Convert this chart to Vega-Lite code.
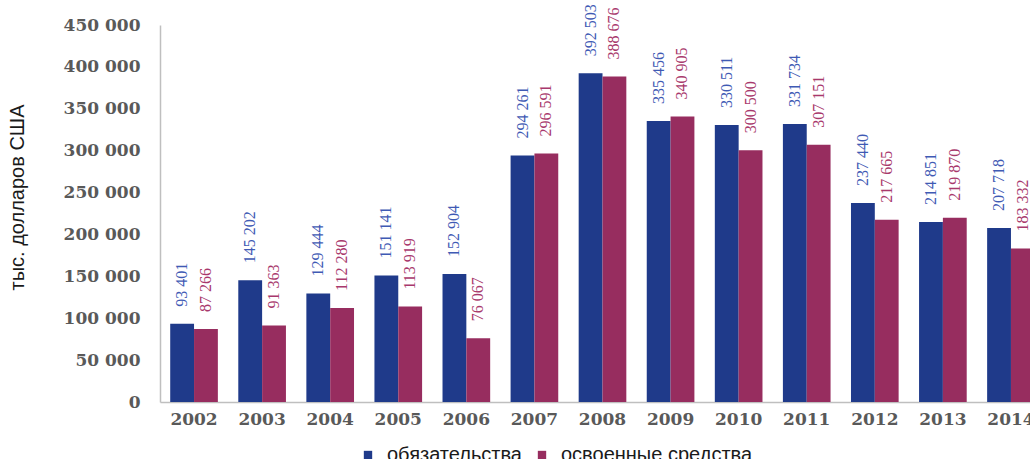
{
  "$schema": "https://vega.github.io/schema/vega-lite/v6.json",
  "autosize": {"type": "none"},
  "padding": {"left": 160, "top": 25, "right": 0, "bottom": 57},
  "width": 885,
  "height": 377,
  "background": "white",
  "config": {
    "view": {"stroke": null},
    "locale": {"number": {"decimal": ",", "thousands": " ", "grouping": [3], "currency": ["", ""]}}
  },
  "data": {
    "values": [
      {"year": "2002", "series": "обязательства", "value": 93401},
      {"year": "2002", "series": "освоенные средства", "value": 87266},
      {"year": "2003", "series": "обязательства", "value": 145202},
      {"year": "2003", "series": "освоенные средства", "value": 91363},
      {"year": "2004", "series": "обязательства", "value": 129444},
      {"year": "2004", "series": "освоенные средства", "value": 112280},
      {"year": "2005", "series": "обязательства", "value": 151141},
      {"year": "2005", "series": "освоенные средства", "value": 113919},
      {"year": "2006", "series": "обязательства", "value": 152904},
      {"year": "2006", "series": "освоенные средства", "value": 76067},
      {"year": "2007", "series": "обязательства", "value": 294261},
      {"year": "2007", "series": "освоенные средства", "value": 296591},
      {"year": "2008", "series": "обязательства", "value": 392503},
      {"year": "2008", "series": "освоенные средства", "value": 388676},
      {"year": "2009", "series": "обязательства", "value": 335456},
      {"year": "2009", "series": "освоенные средства", "value": 340905},
      {"year": "2010", "series": "обязательства", "value": 330511},
      {"year": "2010", "series": "освоенные средства", "value": 300500},
      {"year": "2011", "series": "обязательства", "value": 331734},
      {"year": "2011", "series": "освоенные средства", "value": 307151},
      {"year": "2012", "series": "обязательства", "value": 237440},
      {"year": "2012", "series": "освоенные средства", "value": 217665},
      {"year": "2013", "series": "обязательства", "value": 214851},
      {"year": "2013", "series": "освоенные средства", "value": 219870},
      {"year": "2014", "series": "обязательства", "value": 207718},
      {"year": "2014", "series": "освоенные средства", "value": 183332}
    ]
  },
  "encoding": {
    "x": {
      "field": "year", "type": "nominal",
      "scale": {"paddingInner": 0.3, "paddingOuter": 0.15},
      "axis": {
        "title": null, "labelAngle": 0, "ticks": false,
        "domainColor": "#BFBFBF", "domainWidth": 1.5,
        "labelFont": "DejaVu Serif", "labelFontWeight": "bold", "labelFontSize": 17,
        "labelColor": "#595959", "labelPadding": 9
      }
    },
    "xOffset": {"field": "series", "type": "nominal", "sort": ["обязательства", "освоенные средства"]},
    "y": {
      "field": "value", "type": "quantitative",
      "scale": {"domain": [0, 450000], "nice": false},
      "axis": {
        "values": [0, 50000, 100000, 150000, 200000, 250000, 300000, 350000, 400000, 450000],
        "format": ",d", "grid": false, "ticks": false,
        "domainColor": "#BFBFBF", "domainWidth": 1.5,
        "labelFont": "DejaVu Serif", "labelFontWeight": "bold", "labelFontSize": 17,
        "labelColor": "#595959", "labelPadding": 20,
        "title": "тыс. долларов США",
        "titleFont": "Liberation Sans", "titleFontWeight": "normal", "titleFontSize": 20,
        "titleColor": "#1a1a1a", "titleX": -133, "titleY": 172, "titleAlign": "center", "titleBaseline": "bottom"
      }
    }
  },
  "layer": [
    {
      "mark": {"type": "bar"},
      "encoding": {
        "color": {
          "field": "series", "type": "nominal",
          "scale": {"domain": ["обязательства", "освоенные средства"], "range": ["#1F3A8A", "#972D5F"]},
          "legend": {
            "title": null, "orient": "none", "direction": "horizontal",
            "legendX": 198, "legendY": 420,
            "symbolType": "square", "symbolSize": 70, "symbolStrokeWidth": 0,
            "labelFont": "Liberation Sans", "labelFontSize": 20, "labelColor": "#1a1a1a",
            "labelLimit": 0, "labelOffset": 9, "columnPadding": 10
          }
        }
      }
    },
    {
      "mark": {"type": "text", "angle": 270, "align": "left", "baseline": "middle", "dx": 17,
               "font": "Liberation Serif", "fontSize": 16},
      "encoding": {
        "text": {"field": "value", "type": "quantitative", "format": ",d"},
        "color": {
          "condition": {"test": "datum.series === 'обязательства'", "value": "#3F5AB4"},
          "value": "#A8386C"
        }
      }
    }
  ]
}
